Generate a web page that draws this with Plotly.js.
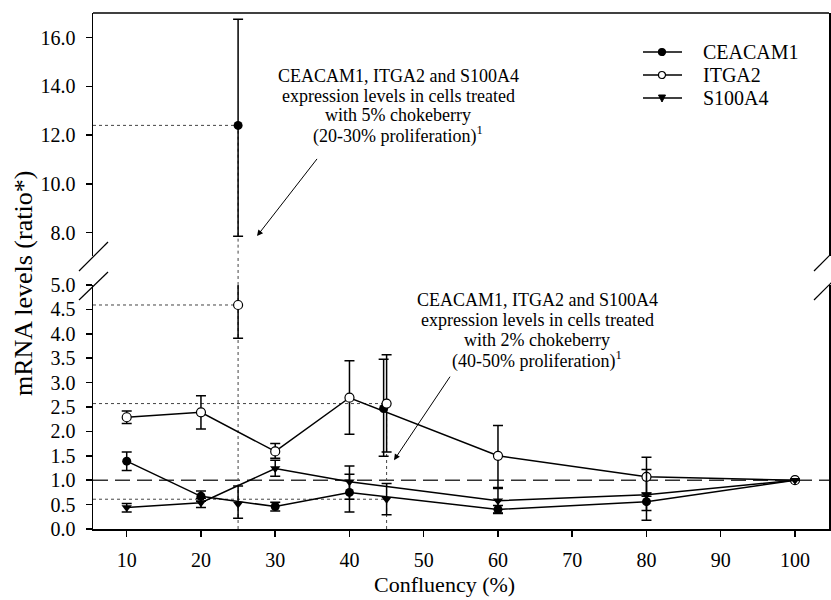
<!DOCTYPE html>
<html>
<head>
<meta charset="utf-8">
<script src="https://cdn.plot.ly/plotly-3.0.1.min.js"></script>
<style>html,body{margin:0;padding:0;background:#fff;}#chart{width:831px;height:600px;}</style>
</head>
<body>
<div id="chart"></div>
<script>
// ---- data ----
const confluency = [10, 20, 30, 40, 60, 80, 100];
const ceacam1 = [1.39, 0.67, 0.46, 0.75, 0.40, 0.56, 1.00];
const ceacam1ErrPlus = [0.19, 0.11, 0.09, 0.37, 0.08, 0.18, 0];
const ceacam1ErrMinus = [0.19, 0.10, 0.09, 0.40, 0.08, 0.18, 0];
const itga2 = [2.29, 2.39, 1.59, 2.69, 1.50, 1.07, 1.00];
const itga2ErrPlus = [0.13, 0.34, 0.16, 0.76, 0.62, 0.40, 0];
const itga2ErrMinus = [0.13, 0.34, 0.14, 0.75, 0.65, 0.40, 0];
const s100a4 = [0.44, 0.54, 1.24, 0.97, 0.58, 0.70, 1.00];
const s100a4ErrPlus = [0.08, 0.09, 0.17, 0.32, 0.25, 0.52, 0];
const s100a4ErrMinus = [0.09, 0.10, 0.16, 0.36, 0.25, 0.52, 0];

// chokeberry-treated points (5% at 25% confluency, 2% at 45% confluency)
const treatedX = [25, 45];
const treatedCeacam1X = [25, 44.6];
const treatedCeacam1 = [12.4, 2.47];
const treatedCeacam1ErrPlus = [4.35, 1.01];
const treatedCeacam1ErrMinus = [4.55, 0.98];
const treatedItga2 = [4.59, 2.57];
const treatedItga2ErrPlus = [0.54, 1.00];
const treatedItga2ErrMinus = [0.68, 0.99];
const treatedS100a4 = [0.51, 0.61];
const treatedS100a4ErrPlus = [0.37, 0.32];
const treatedS100a4ErrMinus = [0.29, 0.32];

const seriesNames = ['CEACAM1', 'ITGA2', 'S100A4'];
const referenceLevel = 1.0;
const lowerTicks = [0, 0.5, 1, 1.5, 2, 2.5, 3, 3.5, 4, 4.5, 5];
const upperTicks = [8, 10, 12, 14, 16];
const xTicks = [10, 20, 30, 40, 50, 60, 70, 80, 90, 100];

// ---- layout geometry ----
const W = 831, H = 600;
const M = {l: 93, r: 2, t: 13, b: 71};
const xRange = [5.46, 104.58];
const lowerRange = [0, 5.0];
const upperRange = [7.04, 17.01];
const lowerDomain = [0, 0.4729];
const upperDomain = [0.529, 1];
const plotW = W - M.l - M.r, plotH = H - M.t - M.b;
const px = v => (v - M.l) / plotW;
const py = v => (H - M.b - v) / plotH;

const FONT = "'Liberation Serif', 'Times New Roman', Times, serif";
const black = '#000';

const errStyle = (plus, minus) => ({type: 'data', symmetric: false, array: plus, arrayminus: minus,
  color: black, thickness: 1.5, width: 5});

const traces = [];
// dashed reference line
traces.push({x: xRange, y: [referenceLevel, referenceLevel], yaxis: 'y', mode: 'lines',
  line: {color: '#333', width: 1.5, dash: '15px,7px'}, showlegend: false, hoverinfo: 'skip'});

// dotted guide lines to the treated points
const dot = {color: '#444', width: 1, dash: 'dot'};
traces.push({x: [xRange[0], treatedX[0]], y: [treatedCeacam1[0], treatedCeacam1[0]], yaxis: 'y2', mode: 'lines', line: dot, showlegend: false});
traces.push({x: [xRange[0], treatedX[0]], y: [treatedItga2[0], treatedItga2[0]], yaxis: 'y', mode: 'lines', line: dot, showlegend: false});
traces.push({x: [xRange[0], treatedX[1]], y: [treatedItga2[1], treatedItga2[1]], yaxis: 'y', mode: 'lines', line: dot, showlegend: false});
traces.push({x: [xRange[0], treatedX[1]], y: [treatedS100a4[1], treatedS100a4[1]], yaxis: 'y', mode: 'lines', line: dot, showlegend: false});
traces.push({x: [treatedX[0], treatedX[0]], y: [0, treatedCeacam1[0]], yaxis: 'y', mode: 'lines', line: dot, showlegend: false});
traces.push({x: [treatedX[0], treatedX[0]], y: [0, treatedCeacam1[0]], yaxis: 'y2', mode: 'lines', line: dot, showlegend: false});
traces.push({x: [treatedX[1], treatedX[1]], y: [0, treatedItga2[1]], yaxis: 'y', mode: 'lines', line: dot, showlegend: false});

const markerStyles = [
  {symbol: 'circle', size: 9, color: black},
  {symbol: 'circle', size: 9, color: '#fff', line: {color: black, width: 1.2}},
  {symbol: 'triangle-down', size: 9, color: black}
];
const mainY = [ceacam1, itga2, s100a4];
const mainPlus = [ceacam1ErrPlus, itga2ErrPlus, s100a4ErrPlus];
const mainMinus = [ceacam1ErrMinus, itga2ErrMinus, s100a4ErrMinus];
mainY.forEach((ys, i) => traces.push({name: seriesNames[i], x: confluency, y: ys, yaxis: 'y',
  mode: 'lines+markers', line: {color: black, width: 1.5}, marker: markerStyles[i],
  error_y: errStyle(mainPlus[i], mainMinus[i]), cliponaxis: false, showlegend: false}));

// treated points
traces.push({x: [treatedCeacam1X[0]], y: [treatedCeacam1[0]], yaxis: 'y2', mode: 'markers', showlegend: false,
  marker: markerStyles[0], error_y: errStyle([treatedCeacam1ErrPlus[0]], [treatedCeacam1ErrMinus[0]]), cliponaxis: false});
traces.push({x: [treatedCeacam1X[1]], y: [treatedCeacam1[1]], yaxis: 'y', mode: 'markers', showlegend: false,
  marker: markerStyles[0], error_y: errStyle([treatedCeacam1ErrPlus[1]], [treatedCeacam1ErrMinus[1]]), cliponaxis: false});
traces.push({x: treatedX, y: treatedItga2, yaxis: 'y', mode: 'markers', showlegend: false,
  marker: markerStyles[1], error_y: errStyle(treatedItga2ErrPlus, treatedItga2ErrMinus), cliponaxis: false});
traces.push({x: treatedX, y: treatedS100a4, yaxis: 'y', mode: 'markers', showlegend: false,
  marker: markerStyles[2], error_y: errStyle(treatedS100a4ErrPlus, treatedS100a4ErrMinus), cliponaxis: false});

const axisCommon = {showline: true, linecolor: black, linewidth: 1.5, ticks: 'outside', ticklen: 6,
  tickwidth: 1.5, tickcolor: black, showgrid: false, zeroline: false,
  tickfont: {family: FONT, size: 20, color: black}};

const ann = [];
const textLine = (t, x, y, size, anchor) => ({text: t, xref: 'paper', yref: 'paper', x: px(x), y: py(y),
  xanchor: anchor || 'center', yanchor: 'middle', showarrow: false, font: {family: FONT, size: size, color: black}});
[['CEACAM1, ITGA2 and S100A4', 76], ['expression levels in cells treated', 96], ['with 5% chokeberry', 115],
 ['(20-30% proliferation)<sup>1</sup>', 135]].forEach(([t, y]) => ann.push(textLine(t, 398, y, 18)));
[['CEACAM1, ITGA2 and S100A4', 300], ['expression levels in cells treated', 320], ['with 2% chokeberry', 340],
 ['(40-50% proliferation)<sup>1</sup>', 360]].forEach(([t, y]) => ann.push(textLine(t, 537, y, 18)));
ann.push({x: 27.55, y: 7.86, xref: 'x', yref: 'y2', ax: 63, ay: -81, text: ' ',
  showarrow: true, arrowhead: 2, arrowsize: 1.2, arrowwidth: 1, arrowcolor: black});
ann.push({x: 46.0, y: 1.41, xref: 'x', yref: 'y', ax: 59, ay: -88, text: ' ',
  showarrow: true, arrowhead: 2, arrowsize: 1.2, arrowwidth: 1, arrowcolor: black});
ann.push({text: 'mRNA levels (ratio*)', xref: 'paper', yref: 'paper', x: px(23), y: py(284), textangle: -90,
  showarrow: false, xanchor: 'center', yanchor: 'middle', font: {family: FONT, size: 26, color: black}});
ann.push({text: 'Confluency (%)', xref: 'paper', yref: 'paper', x: px(444), y: py(584),
  showarrow: false, xanchor: 'center', yanchor: 'middle', font: {family: FONT, size: 22, color: black}});

const seg = (x0, y0, x1, y1, w) => ({type: 'line', xref: 'paper', yref: 'paper',
  x0: px(x0), y0: py(y0), x1: px(x1), y1: py(y1), line: {color: black, width: w || 1.2}});
const shapes = [
  {type: 'line', xref: 'paper', yref: 'paper', x0: 0, x1: 1, y0: 1, y1: 1, line: {color: black, width: 1.5}},
  seg(79, 271, 108, 242), seg(79, 300, 108, 272),
  seg(814, 271, 844, 241), seg(814, 300, 844, 270),
  {type: 'line', xref: 'x', yref: 'paper', x0: treatedX[0], x1: treatedX[0], y0: lowerDomain[1], y1: upperDomain[0], line: dot}
];

// legend (drawn by hand to match the original spacing)
const legY = [52, 75, 98];
seriesNames.forEach((n, i) => {
  const y = legY[i];
  shapes.push(seg(643, y, 682, y, 1.5));
  if (i === 2) {
    shapes.push({type: 'path', xref: 'paper', yref: 'paper', fillcolor: black, line: {color: black, width: 1},
      path: `M ${px(658.5)} ${py(y - 3)} L ${px(665.5)} ${py(y - 3)} L ${px(662)} ${py(y + 4)} Z`});
  } else {
    shapes.push({type: 'circle', xref: 'paper', yref: 'paper', x0: px(658.5), x1: px(665.5), y0: py(y + 3.5), y1: py(y - 3.5),
      fillcolor: i === 0 ? black : '#fff', line: {color: black, width: 1.2}});
  }
  ann.push(textLine(n, 701, y, 20, 'left'));
});

const layout = {
  width: W, height: H, margin: M, paper_bgcolor: '#fff', plot_bgcolor: '#fff',
  showlegend: false,
  xaxis: Object.assign({}, axisCommon, {range: xRange, tickvals: xTicks, anchor: 'y', ticklabelstandoff: 6}),
  yaxis: Object.assign({}, axisCommon, {range: lowerRange, domain: lowerDomain, tickvals: lowerTicks,
    tickformat: '.1f', mirror: true, ticklabelstandoff: 6}),
  yaxis2: Object.assign({}, axisCommon, {range: upperRange, domain: upperDomain, tickvals: upperTicks,
    tickformat: '.1f', mirror: true, anchor: 'x', ticklabelstandoff: 6}),
  annotations: ann,
  shapes: shapes
};

Plotly.newPlot('chart', traces, layout, {staticPlot: true});
</script>
</body>
</html>
